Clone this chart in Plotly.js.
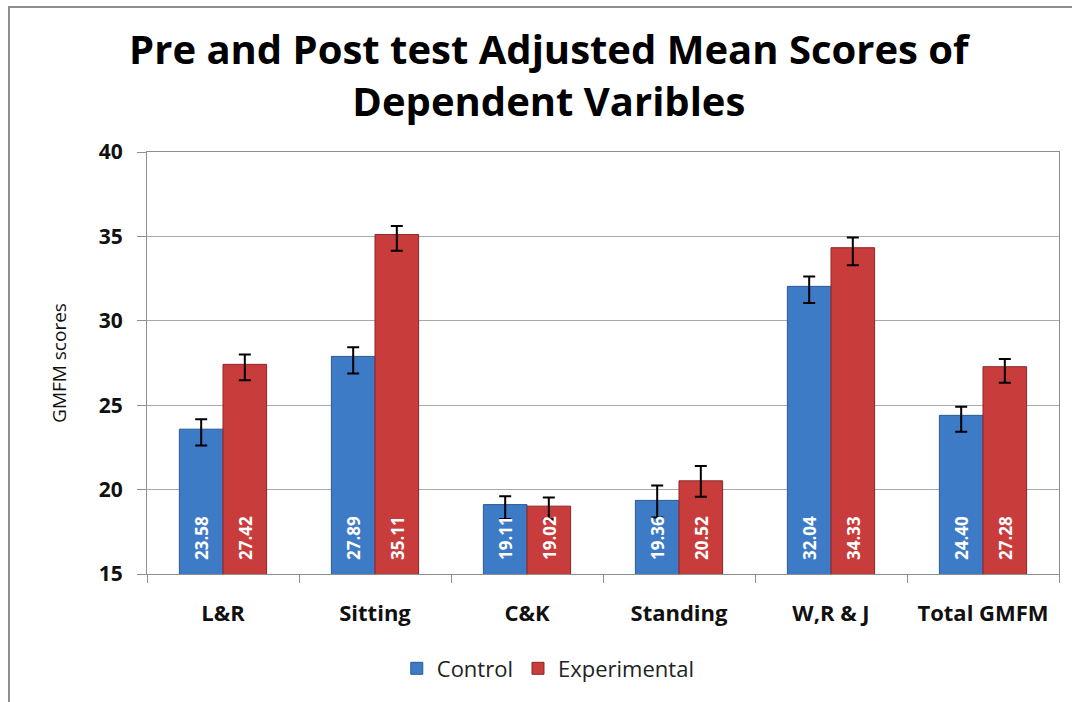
<!DOCTYPE html>
<html>
<head>
<meta charset="utf-8">
<script src="https://cdn.plot.ly/plotly-3.0.1.min.js"></script>
<style>
  html, body { margin: 0; padding: 0; background: #ffffff; overflow: hidden; }
  #chart { position: absolute; left: 0; top: 0; width: 1072px; height: 702px; }
  #frame { position: absolute; left: 8px; top: 6px; width: 1100px; height: 740px;
           border: 2px solid #8e8e8e; pointer-events: none; box-sizing: border-box; }
</style>
</head>
<body>
<div id="chart"></div>
<div id="frame"></div>
<script>
const categories = ["L&R", "Sitting", "C&K", "Standing", "W,R & J", "Total GMFM"];
const controlValues = [23.58, 27.89, 19.11, 19.36, 32.04, 24.40];
const experimentalValues = [27.42, 35.11, 19.02, 20.52, 34.33, 27.28];
const controlErrPlus = [0.59, 0.55, 0.49, 0.89, 0.58, 0.51];
const controlErrMinus = [0.97, 1.01, 0.85, 1.01, 0.98, 0.97];
const experimentalErrPlus = [0.58, 0.50, 0.51, 0.88, 0.60, 0.46];
const experimentalErrMinus = [0.94, 0.96, 0.78, 0.94, 1.04, 0.95];
const yTicks = [15, 20, 25, 30, 35, 40];
const axisMin = 15;

const FONT = "Open Sans, sans-serif";

function series(name, values, plus, minus, fill, edge) {
  return {
    type: "bar",
    name: name,
    x: categories,
    y: values,
    hoverinfo: "x+y+name",
    marker: { color: fill, line: { color: edge, width: 1 } },
    error_y: {
      type: "data", symmetric: false,
      array: plus, arrayminus: minus,
      color: "#000000", thickness: 2, width: 6
    }
  };
}

const data = [
  series("Control", controlValues, controlErrPlus, controlErrMinus, "#3e7bc6", "#2a5a96"),
  series("Experimental", experimentalValues, experimentalErrPlus, experimentalErrMinus, "#c93c3c", "#8e2626")
];

// value labels: rotated, white, sitting at the base of each bar
function labels(values, shift) {
  return values.map((v, i) => ({
    x: categories[i], y: axisMin, xref: "x", yref: "y",
    text: v.toFixed(2), showarrow: false, textangle: -90,
    xanchor: "center", yanchor: "bottom", xshift: shift, yshift: 12,
    font: { family: FONT, size: 17, color: "#ffffff", weight: "bold" }
  }));
}

const layout = {
  width: 1072, height: 702,
  margin: { l: 147, r: 13, t: 152, b: 123 },
  paper_bgcolor: "#ffffff",
  plot_bgcolor: "#ffffff",
  font: { family: FONT, color: "#1a1a1a" },
  title: {
    text: "Pre and Post test Adjusted Mean Scores of<br>Dependent Varibles",
    font: { family: FONT, size: 40, color: "#000000", weight: "bold" },
    x: 0.512, xanchor: "center",
    y: 1 - 64 / 702, yanchor: "top", yref: "container"
  },
  barmode: "group",
  bargap: 0.426,
  bargroupgap: 0,
  showlegend: true,
  legend: {
    orientation: "h",
    x: 0.44, xanchor: "center",
    y: -0.224, yanchor: "middle",
    font: { family: FONT, size: 22, color: "#222222" },
    itemwidth: 30
  },
  annotations: labels(controlValues, -22).concat(labels(experimentalValues, 22)),
  xaxis: {
    type: "category",
    tickson: "boundaries",
    ticks: "outside", ticklen: 8, tickcolor: "#8e8e8e", tickwidth: 1,
    showline: true, linecolor: "#8e8e8e", linewidth: 1, mirror: true,
    showgrid: false,
    tickfont: { family: FONT, size: 22, color: "#111111", weight: "bold" },
    ticklabelstandoff: 20,
    automargin: false
  },
  yaxis: {
    range: [15, 40],
    tickvals: yTicks,
    ticktext: yTicks.map(String),
    ticks: "outside", ticklen: 9, tickcolor: "#8e8e8e", tickwidth: 1,
    showline: true, linecolor: "#8e8e8e", linewidth: 1, mirror: true,
    showgrid: true, gridcolor: "#a9a9a9", gridwidth: 1,
    zeroline: false,
    tickfont: { family: FONT, size: 21, color: "#111111", weight: "bold" },
    ticklabelstandoff: 10,
    title: {
      text: "GMFM scores",
      font: { family: FONT, size: 19, color: "#111111" },
      standoff: 27
    },
    automargin: false
  }
};

Plotly.newPlot("chart", data, layout, { displayModeBar: false, staticPlot: true });
</script>
</body>
</html>
